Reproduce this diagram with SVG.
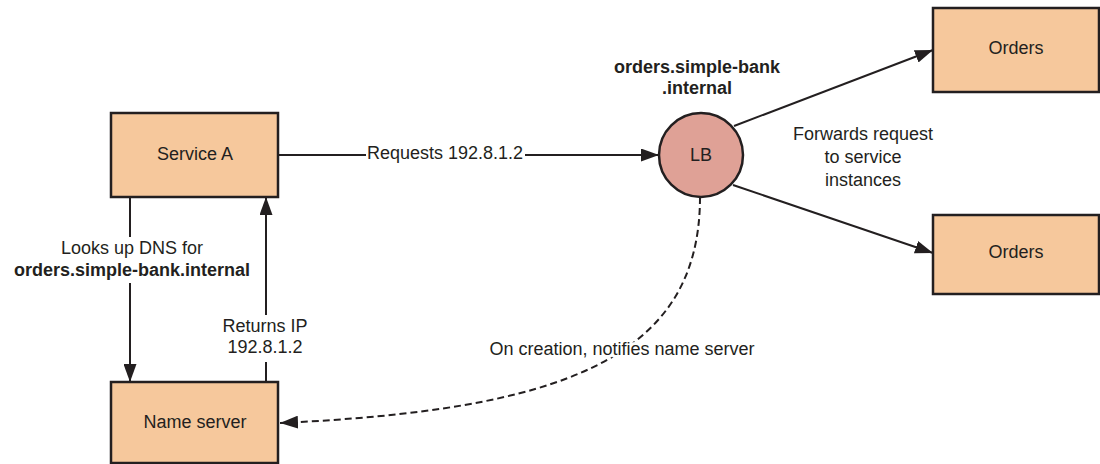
<svg xmlns="http://www.w3.org/2000/svg" width="1100" height="464" viewBox="0 0 1100 464">
<style>
text{font-family:"Liberation Sans",Arial,Helvetica,sans-serif;font-size:18px;fill:#231f20;text-anchor:middle}
.b{font-weight:bold}
.box{fill:#f6c89c;stroke:#231f20;stroke-width:2.5}
.lb{fill:#dfa196;stroke:#231f20;stroke-width:2.5}
.ln{fill:none;stroke:#231f20;stroke-width:2}
.ds{fill:none;stroke:#231f20;stroke-width:2;stroke-dasharray:7 4}
.mask{stroke:#fff;stroke-width:6;paint-order:stroke}
</style>
<defs>
<marker id="ah" markerUnits="userSpaceOnUse" markerWidth="19" markerHeight="13" refX="18" refY="6.5" orient="auto">
<path d="M0,0 L18,6.5 L0,13 z" fill="#231f20"/>
</marker>
</defs>
<rect width="1100" height="464" fill="#fff"/>
<g id="connectors">
<line class="ln" x1="278" y1="155" x2="366" y2="155"/>
<line class="ln" x1="525" y1="155" x2="659" y2="155" marker-end="url(#ah)"/>
<line class="ln" x1="130" y1="197" x2="130" y2="237"/>
<line class="ln" x1="130" y1="283" x2="130" y2="382" marker-end="url(#ah)"/>
<line class="ln" x1="266" y1="382" x2="266" y2="362"/>
<line class="ln" x1="266" y1="315" x2="266" y2="197" marker-end="url(#ah)"/>
<line class="ln" x1="734" y1="126" x2="933" y2="50" marker-end="url(#ah)"/>
<line class="ln" x1="733" y1="185" x2="933" y2="253" marker-end="url(#ah)"/>
<path class="ds" d="M700,197 C700,360 560,410 280,423" marker-end="url(#ah)"/>
<text x="445" y="159">Requests 192.8.1.2</text>
<text x="132" y="254">Looks up DNS for</text>
<text class="b" x="132" y="276">orders.simple-bank.internal</text>
<text x="265" y="332">Returns IP</text>
<text x="265" y="353">192.8.1.2</text>
<text x="863" y="140">Forwards request</text>
<text x="863" y="163">to service</text>
<text x="863" y="186">instances</text>
<text class="mask" x="622" y="355">On creation, notifies name server</text>
</g>
<g id="service-a">
<rect class="box" x="111" y="113" width="167" height="84"/>
<text x="195" y="160">Service A</text>
</g>
<g id="name-server">
<rect class="box" x="111" y="382" width="167" height="81"/>
<text x="195" y="428">Name server</text>
</g>
<g id="lb">
<circle class="lb" cx="701" cy="155" r="42"/>
<text x="701" y="161">LB</text>
<text class="b" x="697" y="73">orders.simple-bank</text>
<text class="b" x="697" y="94">.internal</text>
</g>
<g id="orders-1">
<rect class="box" x="933" y="8" width="166" height="84"/>
<text x="1016" y="54">Orders</text>
</g>
<g id="orders-2">
<rect class="box" x="933" y="215" width="166" height="79"/>
<text x="1016" y="258">Orders</text>
</g>
</svg>
